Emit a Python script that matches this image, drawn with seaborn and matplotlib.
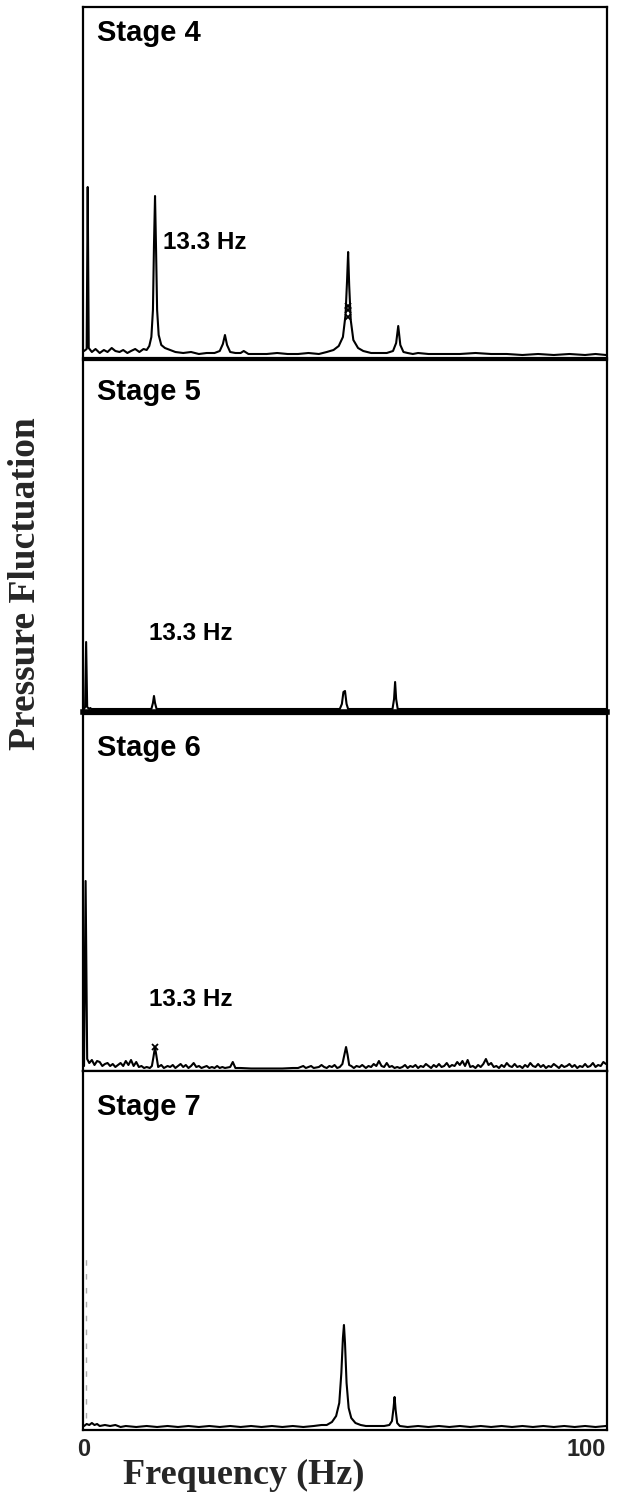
import numpy as np
import pandas as pd
import matplotlib
matplotlib.use("Agg")
import matplotlib.pyplot as plt
import seaborn as sns

# ---------------- data (amplitude in arbitrary units, frequency in Hz) ----------------
stages = ["Stage 4", "Stage 5", "Stage 6", "Stage 7"]
peak_label = "13.3 Hz"
x_ticks = [0, 100]
x_tick_labels = ["0", "100"]

s4_freq = [0.0, 0.5, 0.7, 0.9, 1.5, 2.2, 3.0, 3.8, 4.5, 5.3,
           6.0, 6.8, 7.5, 8.3, 9.0, 9.8, 10.6, 11.4, 12.0, 12.5,
           12.9, 13.2, 13.4, 13.6, 13.8, 14.0, 14.3, 14.8, 15.5, 16.5,
           17.5, 19.0, 20.5, 22.0, 23.5, 25.0, 26.0, 26.6, 27.0, 27.4,
           28.0, 29.0, 30.0, 30.6, 31.5, 33.0, 35.0, 37.0, 39.0, 41.0,
           43.0, 45.0, 46.5, 47.8, 48.8, 49.6, 50.1, 50.4, 50.6, 50.8,
           51.1, 51.6, 52.5, 53.5, 55.0, 56.5, 58.0, 59.2, 59.8, 60.2,
           60.6, 61.2, 62.0, 63.0, 64.0, 66.0, 69.0, 72.0, 75.0, 78.0,
           81.0, 84.0, 87.0, 90.0, 93.0, 96.0, 98.0, 100.0]
s4_amp = [4, 6, 168, 7, 3, 6, 2, 5, 3, 7,
          4, 3, 5, 2, 4, 6, 3, 6, 5, 9,
          18, 45, 110, 159, 105, 45, 20, 10, 7, 5,
          3, 2, 3, 1, 2, 2, 4, 11, 20, 10,
          3, 2, 2, 4, 1, 1, 1, 2, 1, 1,
          2, 1, 3, 5, 9, 18, 40, 75, 103, 70,
          35, 15, 7, 4, 2, 2, 2, 4, 12, 29,
          10, 3, 2, 1, 2, 1, 1, 1, 2, 1,
          1, 0, 1, 0, 1, 0, 1, 0]
s4_mark_freq = [50.6, 50.6, 50.6]
s4_mark_amp = [49, 45, 38]

s5_freq = [0.0, 0.2, 0.4, 0.6, 1.0, 1.2, 1.4, 12.9, 13.2, 13.4,
           13.6, 13.9, 49.0, 49.4, 49.7, 50.0, 50.3, 50.6, 59.1, 59.4,
           59.6, 59.8, 60.1, 100.0]
s5_amp = [0, 2, 67, 2, 0, 1, 0, 0, 6, 13,
          6, 0, 0, 5, 17, 18, 5, 0, 0, 10,
          27, 10, 0, 0]

s6_freq = [0.0, 0.3, 0.6, 1.0, 1.5, 2.0, 2.5, 3.0, 3.5, 4.0,
           4.5, 5.0, 5.5, 6.0, 6.5, 7.0, 7.5, 8.0, 8.5, 9.0,
           9.5, 10.0, 10.5, 11.0, 11.5, 12.0, 12.6, 13.0, 13.3, 13.6,
           13.9, 14.2, 14.8, 15.3, 16.0, 16.5, 17.0, 17.5, 18.0, 18.5,
           19.0, 19.5, 20.0, 20.5, 21.0, 21.5, 22.0, 22.5, 23.0, 23.5,
           24.0, 24.5, 25.0, 25.5, 26.0, 26.5, 27.0, 28.0, 28.5, 29.0,
           30.0, 32.0, 34.0, 36.0, 38.0, 40.0, 41.0, 42.0, 42.5, 43.0,
           43.5, 44.0, 45.0, 45.5, 46.0, 46.5, 47.0, 47.5, 48.0, 48.5,
           49.0, 49.5, 49.9, 50.2, 50.5, 50.8, 51.2, 51.7, 52.2, 52.8,
           53.3, 54.0, 54.5, 55.0, 55.5, 56.0, 56.5, 57.0, 57.5, 58.0,
           58.5, 59.0, 59.5, 60.0, 60.5, 61.0, 61.5, 62.0, 62.5, 63.0,
           63.5, 64.0, 64.5, 65.0, 65.5, 66.0, 66.5, 67.0, 67.5, 68.0,
           68.5, 69.0, 69.5, 70.0, 70.5, 71.0, 71.5, 72.0, 72.5, 73.0,
           73.5, 74.0, 74.5, 75.0, 75.5, 76.0, 76.5, 77.0, 77.5, 78.0,
           78.5, 79.0, 79.5, 80.0, 80.5, 81.0, 81.5, 82.0, 82.5, 83.0,
           83.5, 84.0, 84.5, 85.0, 85.5, 86.0, 86.5, 87.0, 87.5, 88.0,
           88.5, 89.0, 89.5, 90.0, 90.5, 91.0, 91.5, 92.0, 92.5, 93.0,
           93.5, 94.0, 94.5, 95.0, 95.5, 96.0, 96.5, 97.0, 97.5, 98.0,
           98.5, 99.0, 99.5, 100.0]
s6_amp = [3, 188, 10, 6, 9, 4, 8, 7, 3, 5,
          6, 3, 5, 2, 4, 6, 3, 8, 4, 9,
          3, 7, 2, 3, 1, 2, 1, 3, 12, 22,
          12, 2, 4, 1, 3, 2, 4, 1, 3, 5,
          2, 4, 1, 3, 6, 2, 3, 1, 2, 3,
          1, 2, 1, 3, 1, 2, 1, 2, 7, 1,
          1, 0.5, 0.5, 0.5, 0.5, 1, 1, 3, 1, 2,
          3, 1, 2, 4, 2, 1, 3, 2, 4, 1,
          2, 5, 15, 22, 14, 4, 3, 1, 3, 2,
          4, 1, 3, 2, 5, 3, 8, 3, 2, 6,
          2, 3, 1, 2, 1, 2, 4, 1, 3, 2,
          4, 1, 3, 2, 5, 3, 1, 4, 2, 5,
          2, 3, 6, 2, 4, 3, 7, 4, 8, 3,
          9, 2, 3, 1, 4, 2, 5, 10, 4, 6,
          2, 3, 1, 4, 2, 6, 3, 2, 5, 2,
          3, 1, 4, 2, 6, 3, 2, 5, 2, 4,
          1, 3, 2, 5, 3, 1, 4, 2, 3, 5,
          2, 4, 1, 3, 2, 5, 2, 3, 6, 2,
          4, 3, 7, 5]
s6_mark_freq = [13.6]
s6_mark_amp = [22]

s7_freq = [0.0, 0.5, 1.0, 1.5, 2.0, 2.5, 3.0, 4.0, 5.0, 6.0,
           7.0, 8.0, 10.0, 12.0, 14.0, 16.0, 18.0, 20.0, 22.0, 24.0,
           26.0, 28.0, 30.0, 32.0, 34.0, 36.0, 38.0, 40.0, 42.0, 44.0,
           45.5, 46.5, 47.5, 48.3, 48.9, 49.3, 49.6, 49.8, 50.0, 50.3,
           50.7, 51.2, 52.0, 53.0, 54.0, 56.0, 57.5, 58.5, 59.0, 59.3,
           59.5, 59.7, 60.0, 60.5, 62.0, 64.0, 66.0, 68.0, 70.0, 72.0,
           74.0, 76.0, 78.0, 80.0, 82.0, 84.0, 86.0, 88.0, 90.0, 92.0,
           94.0, 96.0, 98.0, 100.0]
s7_amp = [2, 4, 3, 5, 3, 4, 2, 3, 2, 3,
          1, 2, 1, 2, 1, 2, 1, 2, 1, 2,
          1, 2, 1, 2, 1, 2, 1, 2, 1, 2,
          3, 3, 6, 12, 25, 55, 90, 103, 85, 45,
          20, 10, 5, 3, 2, 2, 2, 3, 7, 20,
          31, 18, 5, 2, 1, 2, 1, 2, 1, 2,
          1, 2, 1, 2, 1, 2, 1, 2, 1, 2,
          1, 2, 1, 2]
s7_faint_freq = [0.3]
s7_faint_amp = [175]

series = [
    (s4_freq, s4_amp, s4_mark_freq, s4_mark_amp),
    (s5_freq, s5_amp, [], []),
    (s6_freq, s6_amp, s6_mark_freq, s6_mark_amp),
    (s7_freq, s7_amp, [], []),
]

# ---------------- layout ----------------
sns.set_theme(style="white")
plt.rcParams["font.family"] = ["Liberation Sans", "DejaVu Sans"]

W, H = 620, 1494
fig = plt.figure(figsize=(W / 100, H / 100), dpi=100)

# panel pixel boxes (top, bottom)
boxes = [(7, 358), (360, 712), (714, 1071), (1071, 1430)]
left_px, right_px = 83, 607
ylims = [(-3, 348), (-3, 349), (-2, 355), (-2, 357)]
stage_pos = [(0.026, 0.926), (0.026, 0.909), (0.026, 0.905), (0.026, 0.900)]
hz_pos = [(0.153, 0.328), (0.126, 0.222), (0.126, 0.199), None]

axes = []
for i, (top, bot) in enumerate(boxes):
    ax = fig.add_axes([left_px / W, 1 - bot / H, (right_px - left_px) / W, (bot - top) / H])
    axes.append(ax)
    f, a, mf, ma = series[i]
    df = pd.DataFrame({"freq": f, "amp": a})
    sns.lineplot(data=df, x="freq", y="amp", ax=ax, color="black", lw=1.5,
                 estimator=None, sort=False)
    if mf:
        ax.plot(mf, ma, ls="none", marker="x", ms=4, mew=1.3, color="black")
    if i == 3:
        ax.vlines(s7_faint_freq, 10, s7_faint_amp, colors="#aaaaaa", lw=1.0,
                  linestyles=(0, (4, 6)))
    ax.set_xlim(-0.2, 100.2)
    ax.set_ylim(*ylims[i])
    ax.set_ylabel("")
    ax.set_xlabel("")
    ax.set_yticks([])
    for s in ax.spines.values():
        s.set_color("black")
        s.set_linewidth(1.6)
        s.set_visible(True)
    ax.text(stage_pos[i][0], stage_pos[i][1], stages[i], transform=ax.transAxes,
            ha="left", va="center", fontsize=21, fontweight="bold", color="black")
    if hz_pos[i] is not None:
        ax.text(hz_pos[i][0], hz_pos[i][1], peak_label, transform=ax.transAxes,
                ha="left", va="center", fontsize=17.5, fontweight="bold", color="black")
    if i < 3:
        ax.set_xticks([])
    else:
        ax.set_xticks(x_ticks)
        ax.set_xticklabels(x_tick_labels, fontsize=17, fontweight="bold")
        ax.tick_params(axis="x", length=0, pad=6)
        ax.get_xticklabels()[-1].set_ha("right")
        ax.get_xticklabels()[0].set_ha("center")

axes[1].spines["bottom"].set_linewidth(4)

fig.text(244 / W, 1 - 1475 / H, "Frequency (Hz)", ha="center", va="center",
         fontsize=26, fontweight="bold", family=["Liberation Serif", "DejaVu Serif"])
fig.text(26 / W, 1 - 584 / H, "Pressure Fluctuation", ha="center", va="center",
         rotation=90, fontsize=27, fontweight="bold",
         family=["Liberation Serif", "DejaVu Serif"])

fig.savefig("out.png", dpi=100)
